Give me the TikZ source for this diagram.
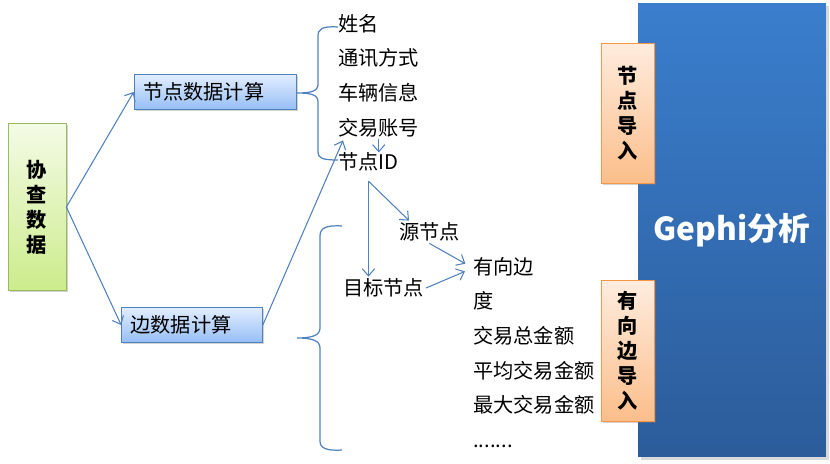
\documentclass[tikz,border=0pt]{standalone}
\usepackage{fontspec}
\setmainfont{Noto Sans CJK SC}
\usetikzlibrary{arrows.meta, positioning, shadows}
\definecolor{lineblue}{RGB}{79,129,189}
\definecolor{calctop}{RGB}{226,238,255}
\definecolor{calcbot}{RGB}{150,190,245}
\definecolor{datatop}{RGB}{244,251,230}
\definecolor{databot}{RGB}{204,236,140}
\definecolor{databorder}{RGB}{155,187,89}
\definecolor{imptop}{RGB}{255,236,222}
\definecolor{impbot}{RGB}{251,190,138}
\definecolor{impborder}{RGB}{247,150,70}
\definecolor{gephitop}{RGB}{58,126,205}
\definecolor{gephibot}{RGB}{44,92,154}

\begin{document}
\begin{tikzpicture}[x=0.02cm, y=-0.02cm,
        every node/.style={font=\fontsize{11.5}{14}\selectfont},
        calcbox/.style={draw=lineblue, top color=calctop, bottom color=calcbot,
                        minimum height=0.7cm, inner xsep=0.18cm, align=left,
                        drop shadow={opacity=0.35, shadow xshift=1pt, shadow yshift=-1pt}},
        vbox/.style={minimum width=1.06cm, align=center,
                     font=\bfseries\fontsize{11.5}{14.2}\selectfont,
                     drop shadow={opacity=0.35, shadow xshift=1pt, shadow yshift=-1pt}},
        item/.style={inner sep=0pt, minimum height=0.68cm, text height=0.85em, text depth=0.15em},
        lbl/.style={anchor=west, inner sep=1pt},
        arrow/.style={-{Straight Barb[length=4pt, width=7pt]}, lineblue, line width=0.6pt},
        brace/.style={lineblue, line width=0.7pt}
      ]
        \useasboundingbox (0,0) rectangle (830,463);

        % right hand block
        \node[minimum width=3.76cm, minimum height=9.08cm, top color=gephitop, bottom color=gephibot,
              text=white, font=\bfseries\fontsize{18}{20}\selectfont,
              drop shadow={opacity=0.3, shadow xshift=1.5pt, shadow yshift=-1.5pt}]
              (gephi) at (732,230) {Gephi分析};
        \node[vbox, draw=impborder, top color=imptop, bottom color=impbot, minimum height=2.8cm]
              (nodeimp) at (628,113) {节\\点\\导\\入};
        \node[vbox, draw=impborder, top color=imptop, bottom color=impbot, minimum height=2.82cm]
              (edgeimp) at (628,351) {有\\向\\边\\导\\入};

        % source data and the two calculations
        \node[vbox, draw=databorder, top color=datatop, bottom color=databot,
              minimum width=1.16cm, minimum height=3.34cm] (data) at (37,207) {协\\查\\数\\据};
        \node[calcbox, text width=2.88cm] (nodecalc) at (215,92) {节点数据计算};
        \node[calcbox, text width=2.46cm] (edgecalc) at (192,325) {边数据计算};

        \draw[arrow] (data.east) -- (nodecalc.west);
        \draw[arrow] (data.east) -- (edgecalc.west);

        % node attributes
        \node[item, anchor=west] (name) at (338,25) {姓名};
        \node[item, below=0pt of name.south west, anchor=north west] (comm) {通讯方式};
        \node[item, below=0pt of comm.south west, anchor=north west] (car)  {车辆信息};
        \node[item, below=0pt of car.south west, anchor=north west]  (acct) {交易账号};
        \node[item, below=0pt of acct.south west, anchor=north west] (id)   {节点ID};

        \draw[brace] (338,27) .. controls (322,26) and (318,29) .. (318,36) -- (318,84)
          .. controls (318,91) and (312,93) .. (297,93) .. controls (312,93) and (318,95) .. (318,102)
          -- (318,152) .. controls (318,158) and (322,160) .. (338,160);

        \draw[arrow] ([yshift=0.14cm]acct.south) -- ([yshift=-0.12cm]acct.south |- id.north);
        \draw[arrow] (edgecalc.east) -- ([shift={(0.1cm,0.12cm)}]id.north west);

        % edge attributes
        \node[lbl] (src) at (397,232) {源节点};
        \node[lbl] (tgt) at (341,288) {目标节点};
        \node[item, anchor=west] (dir) at (473,268) {有向边};
        \node[item, below=0pt of dir.south west, anchor=north west]   (deg)   {度};
        \node[item, below=0pt of deg.south west, anchor=north west]   (total) {交易总金额};
        \node[item, below=0pt of total.south west, anchor=north west] (avg)   {平均交易金额};
        \node[item, below=0pt of avg.south west, anchor=north west]   (max)   {最大交易金额};
        \node[item, below=0pt of max.south west, anchor=north west]   (more)  {.......};

        \draw[arrow] (id.south) -- (id.south |- tgt.north);
        \draw[arrow] (id.south) -- ([xshift=0.24cm]src.north west);
        \draw[arrow, shorten >=5pt] (src.south) -- (dir.west);
        \draw[arrow, shorten >=5pt] (tgt.east) -- (dir.west);

        \draw[brace] (342,226) .. controls (326,225) and (320,228) .. (320,236) -- (320,328)
          .. controls (320,335) and (313,338) .. (297,338) .. controls (313,338) and (320,341) .. (320,348)
          -- (320,441) .. controls (320,448) and (326,451) .. (342,450);
      \end{tikzpicture}
\end{document}
